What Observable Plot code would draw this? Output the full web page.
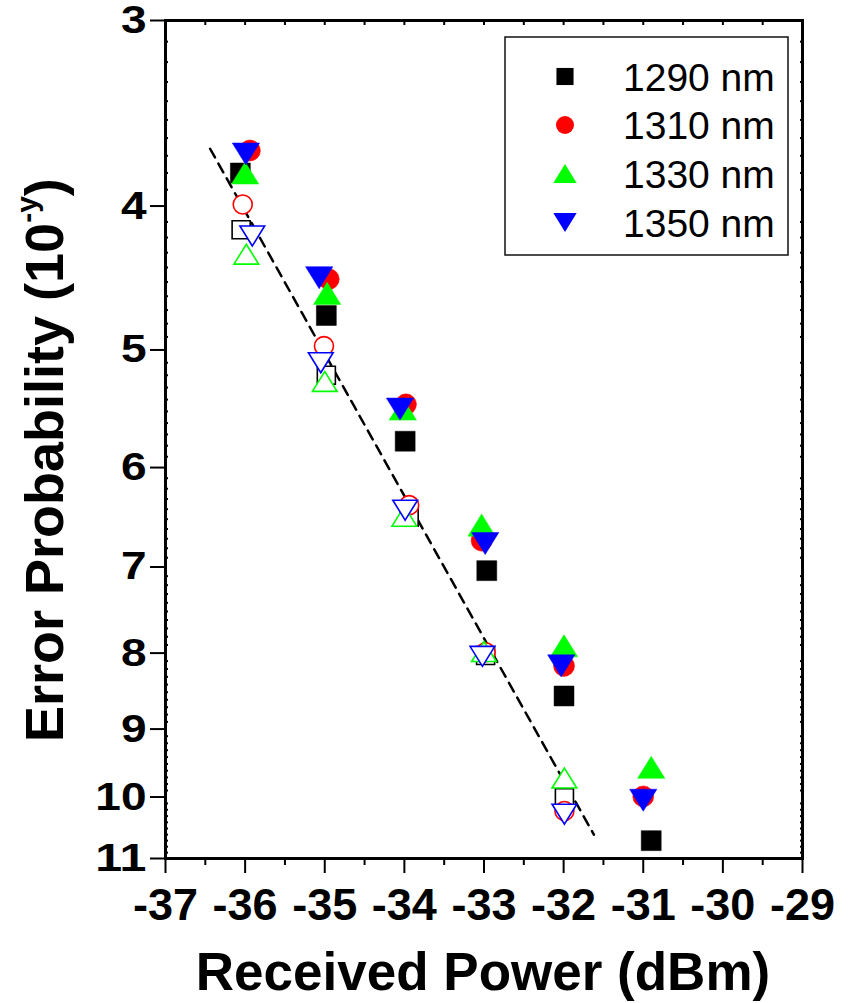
<!DOCTYPE html>
<html>
<head>
<meta charset="utf-8">
<script src="https://cdn.jsdelivr.net/npm/d3@7"></script>
<script src="https://cdn.jsdelivr.net/npm/@observablehq/plot@0.6"></script>
<style>
  html, body { margin: 0; padding: 0; background: #fff; }
  svg { display: block; }
</style>
</head>
<body>
<div id="chart"></div>
<script>
// ---------- data ----------
const series = ["1290 nm", "1310 nm", "1330 nm", "1350 nm"];
const xTicks = [-37, -36, -35, -34, -33, -32, -31, -30, -29];
const yTicks = [3, 4, 5, 6, 7, 8, 9, 10, 11];
const xTitle = "Received Power (dBm)";
const yTitle = "Error Probability (10";
const yTitleSup = "-y";

// filled symbols
const power1290 = [-36.06, -34.98, -33.99, -32.965, -31.995, -30.9];
const ber1290   = [3.80, 4.74, 5.76, 7.04, 8.55, 10.70];
const power1310 = [-35.94, -34.95, -33.98, -33.03, -31.995, -31.0];
const ber1310   = [3.67, 4.48, 5.44, 6.72, 8.16, 9.99];
const power1330 = [-36.0, -34.97, -34.02, -33.03, -31.995, -30.9];
const ber1330   = [3.80, 4.58, 5.48, 6.56, 7.91, 9.55];
const power1350 = [-35.99, -35.07, -34.055, -32.985, -32.03, -31.0];
const ber1350   = [3.69, 4.47, 5.48, 6.75, 8.16, 10.05];

// open symbols
const powerOpen1290 = [-36.05, -34.98, -33.94, -32.98, -31.99];
const berOpen1290   = [4.15, 5.20, 6.48, 8.03, 10.01];
const powerOpen1310 = [-36.03, -35.01, -33.94, -32.98, -31.99];
const berOpen1310   = [3.99, 4.97, 6.36, 7.99, 10.22];
const powerOpen1330 = [-35.985, -35.0, -34.0, -33.0, -31.99];
const berOpen1330   = [4.31, 5.25, 6.47, 7.98, 9.71];
const powerOpen1350 = [-35.91, -35.05, -33.99, -33.02, -31.99];
const berOpen1350   = [4.19, 5.10, 6.41, 8.04, 10.27];

// dashed fit line
const fitPower = [-36.44, -31.62];
const fitBer   = [3.66, 10.60];

// ---------- styles ----------
const colors = ["#000000", "#ff0000", "#00ff00", "#0000ff"];
const shapes = ["square", "circle", "triangleUp", "triangleDown"];
const FONT = "'Liberation Sans', Arial, Helvetica, sans-serif";

function makeSymbol(kind) {
  return {
    draw(ctx, size) {
      const r = Math.sqrt(size / Math.PI);
      if (kind === "square") {
        const s = 0.95 * r;
        ctx.moveTo(-s, -s); ctx.lineTo(s, -s); ctx.lineTo(s, s); ctx.lineTo(-s, s); ctx.closePath();
      } else if (kind === "circle") {
        ctx.moveTo(r, 0); ctx.arc(0, 0, r, 0, 2 * Math.PI); ctx.closePath();
      } else if (kind === "triangleUp") {
        const w = 1.3 * r, h = 1.05 * r;
        ctx.moveTo(0, -h); ctx.lineTo(w, h); ctx.lineTo(-w, h); ctx.closePath();
      } else {
        const w = 1.3 * r, h = 1.05 * r;
        ctx.moveTo(0, h); ctx.lineTo(w, -h); ctx.lineTo(-w, -h); ctx.closePath();
      }
    }
  };
}

const filledPower = [power1290, power1310, power1330, power1350];
const filledBer = [ber1290, ber1310, ber1330, ber1350];
const openPower = [powerOpen1290, powerOpen1310, powerOpen1330, powerOpen1350];
const openBer = [berOpen1290, berOpen1310, berOpen1330, berOpen1350];

const rows = (ps, bs) => ps.map((p, j) => ({power: p, ber: bs[j]}));

const marks = [];
// fit line
marks.push(Plot.line(rows(fitPower, fitBer), {
  x: "power", y: "ber", stroke: "#000", strokeWidth: 2.5, strokeDasharray: "10,7"
}));
// open symbols
series.forEach((s, i) => {
  marks.push(Plot.dot(rows(openPower[i], openBer[i]), {
    x: "power", y: "ber", r: 9.5, symbol: makeSymbol(shapes[i]),
    fill: "white", stroke: colors[i], strokeWidth: 1.6
  }));
});
// filled symbols
series.forEach((s, i) => {
  marks.push(Plot.dot(rows(filledPower[i], filledBer[i]), {
    x: "power", y: "ber", r: 10.5, symbol: makeSymbol(shapes[i]),
    fill: colors[i], stroke: colors[i], strokeWidth: 0.5
  }));
});

const xMinor = d3.range(-36.5, -29, 1);
const xTopMinor = d3.range(-36.5, -29, 0.5);
const yMinor = d3.range(31, 110, 1).map(v => v / 10).filter(v => !Number.isInteger(v));

marks.push(
  Plot.frame({stroke: "#000", strokeWidth: 3}),
  Plot.axisX({ticks: xMinor, tickSize: 7, strokeWidth: 2, fill: "none", label: null}),
  Plot.axisX({ticks: xTicks, tickSize: 15, tickPadding: 15, strokeWidth: 2,
    fontSize: 45, fontWeight: "bold", tickFormat: d => String(d), label: null}),
  Plot.axisX({anchor: "top", ticks: xTopMinor, tickSize: -4, strokeWidth: 2, fill: "none", label: null}),
  Plot.axisY({ticks: yTicks, tickSize: 15, tickPadding: 4, strokeWidth: 2,
    fontSize: 39, fontWeight: "bold", tickFormat: d => String(d), label: null}),
  Plot.axisY({ticks: yMinor, tickSize: -3, strokeWidth: 2, fill: "none", label: null}),
  Plot.axisY({anchor: "right", ticks: yMinor, tickSize: -3, strokeWidth: 2, fill: "none", label: null})
);

const svg = Plot.plot({
  width: 851, height: 1003,
  marginLeft: 165, marginRight: 49, marginTop: 20, marginBottom: 145,
  style: {fontFamily: FONT, background: "white", color: "#000", overflow: "visible"},
  x: {domain: [-37, -29], label: null},
  y: {type: "log", domain: [3, 11], reverse: true, label: null},
  marks
});

document.getElementById("chart").appendChild(svg);

// stretch the y tick labels horizontally (wide glyphs in the reference)
svg.querySelectorAll('[aria-label="y-axis tick label"] text').forEach(t => {
  const n = t.textContent.length;
  t.setAttribute("textLength", (n * 0.556 * 39 * 1.18).toFixed(1));
  t.setAttribute("lengthAdjust", "spacingAndGlyphs");
});

const root = d3.select(svg);

// x title
root.append("text")
  .attr("x", 483).attr("y", 990)
  .attr("text-anchor", "middle")
  .attr("font-family", FONT).attr("font-weight", "bold").attr("font-size", 53)
  .attr("fill", "#000")
  .text(xTitle);

// y title (rotated, with superscript)
const yt = root.append("text")
  .attr("transform", "translate(63,742) rotate(-90)")
  .attr("text-anchor", "start")
  .attr("font-family", FONT).attr("font-weight", "bold").attr("font-size", 54)
  .attr("fill", "#000");
yt.append("tspan").text(yTitle);
yt.append("tspan").attr("font-size", 30).attr("dy", -26).text(yTitleSup);
yt.append("tspan").attr("font-size", 54).attr("dy", 26).text(")");

// legend
const lg = root.append("g");
lg.append("rect")
  .attr("x", 505).attr("y", 37).attr("width", 283).attr("height", 218)
  .attr("fill", "white").attr("stroke", "#111").attr("stroke-width", 1.5);
const rowY = [76.5, 125, 173.5, 222.5];
series.forEach((s, i) => {
  const path = d3.path();
  makeSymbol(shapes[i]).draw(path, Math.PI * 9 * 9);
  lg.append("path")
    .attr("transform", `translate(565,${rowY[i]})`)
    .attr("d", path.toString())
    .attr("fill", colors[i]);
  lg.append("text")
    .attr("x", 623).attr("y", rowY[i]).attr("dy", "0.36em")
    .attr("text-anchor", "start")
    .attr("font-family", FONT).attr("font-size", 39).attr("fill", "#000")
    .text(s);
});
</script>
</body>
</html>
